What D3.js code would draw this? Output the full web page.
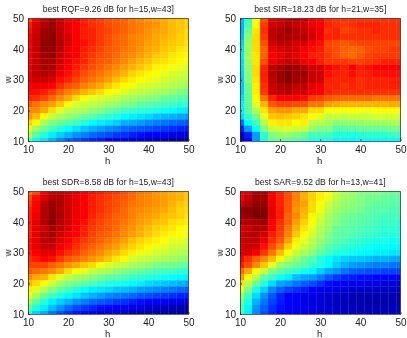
<!DOCTYPE html>
<html>
<meta charset="utf-8">
<script src="https://d3js.org/d3.v7.min.js"></script>
<style>
  html, body { margin: 0; padding: 0; background: #fff; }
  svg { display: block; }
  text { font-family: "Liberation Sans", sans-serif; fill: #222; filter: blur(0.25px); }
</style>
<body>
<div id="my_dataviz"></div>
<script>

// grid of the parameter search
var hValues = d3.range(10, 51, 2);
var wValues = d3.range(50, 9, -2);
var ticks = [10, 20, 30, 40, 50];

var rqf = [
  [80,88,93,96,92,88,87,85,83,82,80,79,78,76,75,73,72,71,69,68,67],
  [85,91,95,97,93,90,87,85,83,82,80,79,78,76,75,74,73,71,69,68,67],
  [86,92,97,98,94,90,88,85,84,82,81,79,78,76,75,73,72,71,69,68,66],
  [87,93,97,99,94,91,88,85,84,82,80,78,77,75,74,73,71,70,69,67,66],
  [88,93,98,99,95,91,88,86,84,82,80,78,77,75,74,72,71,69,68,67,65],
  [88,93,98,98,94,90,88,85,83,81,79,78,76,75,73,71,70,68,67,65,64],
  [87,93,97,98,93,90,87,84,82,80,79,77,75,74,72,70,68,67,65,64,63],
  [88,93,96,96,92,89,86,84,81,79,78,76,74,72,70,68,66,65,64,62,62],
  [89,94,96,96,91,88,85,82,80,78,76,74,72,70,68,66,64,63,61,60,59],
  [89,94,95,94,89,86,83,80,78,76,74,72,70,67,65,63,62,60,59,58,57],
  [89,92,93,91,86,84,81,78,76,74,72,69,66,64,62,61,60,58,57,56,55],
  [87,89,89,87,83,80,78,75,73,71,68,65,63,61,59,58,57,56,55,54,53],
  [86,86,85,82,78,75,73,70,68,66,63,61,59,57,56,55,54,53,52,50,49],
  [84,83,81,77,74,71,66,62,60,59,58,56,54,53,52,51,50,48,47,46,45],
  [79,76,74,72,68,63,59,57,56,55,53,52,50,49,47,46,45,44,43,42,41],
  [75,74,71,66,60,56,55,54,52,50,48,46,44,43,42,41,40,39,38,36,35],
  [73,69,62,57,54,52,50,48,46,44,42,40,38,36,35,34,32,31,30,29,28],
  [67,63,54,50,48,46,44,41,38,36,35,33,30,29,28,26,25,24,23,22,21],
  [60,53,48,44,41,38,35,32,30,28,26,25,23,22,21,20,19,18,17,16,15],
  [55,46,41,36,33,30,27,25,23,21,20,18,17,15,14,13,12,11,10,9,8],
  [47,38,35,30,26,22,20,18,16,15,13,11,10,9,8,6,5,4,3,2,1]
];
var sir = [
  [30,42,62,80,90,92,94,95,93,89,87,84,83,83,83,83,83,83,83,83,83],
  [30,44,63,82,92,93,95,93,92,89,87,84,83,82,83,84,84,84,83,83,83],
  [30,48,65,83,94,95,97,95,93,91,89,83,84,81,82,83,83,84,83,83,83],
  [31,50,66,82,94,96,96,95,95,92,89,84,84,83,83,83,83,83,83,83,83],
  [33,52,66,80,92,94,94,92,92,88,86,81,80,79,80,81,81,81,81,81,81],
  [34,52,66,78,90,91,92,91,88,86,85,81,80,78,77,78,80,81,81,82,82],
  [35,53,65,78,88,90,92,90,87,85,84,82,80,78,77,79,81,82,82,82,82],
  [34,52,65,80,89,91,93,92,89,87,85,82,82,82,81,81,82,83,84,84,84],
  [34,51,66,84,94,96,98,97,95,92,92,87,86,85,87,85,86,88,88,88,88],
  [33,50,66,85,95,97,99,97,97,93,92,86,85,84,86,84,85,86,86,86,86],
  [32,50,65,84,94,97,99,97,96,93,92,85,84,84,85,83,84,84,84,85,85],
  [32,48,64,83,93,95,96,94,94,90,89,84,84,83,84,83,84,84,84,85,85],
  [32,47,64,82,92,94,95,92,92,88,88,84,83,83,83,83,83,83,83,83,83],
  [34,47,62,76,84,87,88,87,86,82,81,79,78,77,77,77,77,76,76,76,76],
  [36,47,60,70,79,81,81,80,80,76,76,72,71,70,70,70,70,70,70,71,71],
  [36,46,55,65,72,73,73,71,71,66,66,62,62,62,62,62,61,62,63,63,63],
  [34,43,49,60,68,69,68,67,65,62,60,56,57,56,57,57,57,58,58,58,58],
  [23,38,44,55,64,65,65,63,64,56,55,54,51,52,52,52,53,53,53,54,54],
  [15,28,38,50,57,58,59,58,57,52,50,50,46,46,47,48,48,48,48,49,49],
  [5,15,28,42,50,52,52,50,48,44,44,44,41,41,40,41,42,42,42,43,43],
  [2,12,28,40,47,48,47,46,44,41,40,40,37,37,37,38,38,38,38,38,38]
];
var sdr = [
  [76,80,88,93,93,92,90,88,86,85,83,82,80,78,76,75,73,72,71,70,68],
  [80,86,91,95,95,92,90,88,85,83,82,80,79,77,75,74,73,72,71,70,68],
  [82,87,94,97,96,92,90,87,85,83,81,80,78,76,75,74,73,72,70,68,67],
  [84,88,95,98,95,92,89,87,85,83,81,79,77,75,74,73,72,71,69,67,66],
  [85,89,95,98,96,92,89,87,84,82,80,78,77,75,73,72,71,69,68,67,65],
  [85,90,95,99,95,92,89,86,83,81,79,78,76,74,72,71,69,68,66,65,64],
  [85,90,93,96,94,91,88,85,82,80,79,77,75,73,71,69,67,66,65,63,62],
  [85,90,94,96,92,90,87,84,81,79,78,76,74,72,70,68,66,64,63,62,61],
  [86,90,94,95,91,88,85,82,80,78,76,74,72,69,67,65,64,62,60,60,58],
  [86,90,93,93,89,86,83,80,78,76,74,72,69,67,65,63,61,60,58,57,57],
  [85,88,90,90,86,83,81,78,76,74,71,69,66,64,61,60,58,57,56,55,54],
  [83,85,87,86,82,79,77,75,73,71,68,65,62,58,57,56,55,54,53,52,51],
  [81,81,81,78,76,73,71,68,66,62,59,57,56,54,53,52,50,49,49,48,47],
  [79,77,76,74,71,66,62,60,57,55,54,52,50,49,48,46,45,44,44,42,41],
  [74,71,70,65,60,56,54,53,51,49,47,46,45,43,42,41,40,39,38,37,36],
  [70,66,62,58,53,50,49,47,45,43,41,40,39,37,36,34,33,32,31,30,29],
  [64,60,55,50,47,44,41,38,36,35,34,32,31,30,28,27,26,25,24,23,22],
  [60,54,48,44,40,37,35,32,30,28,26,25,24,23,21,20,19,18,17,16,15],
  [54,47,41,36,33,30,27,25,23,21,20,18,17,15,14,13,12,11,10,9,9],
  [47,40,36,31,27,23,20,18,16,14,13,11,10,9,8,7,6,5,4,3,3],
  [42,33,29,24,20,17,14,12,10,8,7,6,5,4,3,3,2,2,1,1,1]
];
var sar = [
  [87,90,96,96,88,84,80,75,71,67,64,62,57,54,52,51,50,50,49,48,48],
  [88,93,97,97,88,84,80,75,70,67,64,61,56,53,52,50,49,49,48,47,47],
  [92,95,98,98,89,84,79,74,72,66,62,58,54,52,51,50,48,47,47,46,46],
  [98,99,100,100,90,85,79,73,70,66,61,56,53,51,50,49,47,46,46,45,45],
  [97,98,100,100,90,85,78,74,69,63,59,54,51,49,48,47,46,45,44,44,44],
  [93,95,96,97,88,83,78,72,67,62,57,53,50,48,47,46,45,44,43,43,42],
  [91,93,95,95,87,82,76,70,65,60,55,52,48,47,46,45,44,43,42,42,41],
  [92,94,95,92,85,81,75,68,63,58,54,50,47,46,45,44,43,42,41,41,40],
  [92,94,94,90,83,79,72,64,60,56,52,49,46,45,43,42,41,40,40,39,39],
  [91,93,92,86,80,75,67,61,57,54,50,46,44,42,41,40,39,38,38,37,37],
  [90,91,88,82,76,69,62,57,54,51,47,44,41,40,39,38,37,36,36,35,35],
  [87,83,78,74,69,62,56,52,48,45,41,38,35,33,32,32,31,30,30,29,29],
  [85,80,74,68,60,53,50,48,46,43,40,37,33,30,28,27,26,25,25,24,24],
  [77,71,63,57,50,47,44,42,39,37,33,29,27,24,22,21,20,20,19,19,19],
  [73,63,56,47,43,39,36,31,29,28,25,21,18,16,15,14,14,13,13,13,13],
  [66,56,48,41,34,29,27,24,22,20,17,14,12,11,10,10,9,9,8,8,8],
  [60,50,40,33,26,22,19,17,15,13,11,10,9,8,7,7,6,6,6,6,6],
  [52,44,34,27,21,16,13,12,10,9,8,7,6,5,5,4,4,4,4,4,4],
  [48,40,30,24,19,15,12,11,10,9,8,7,6,5,4,4,3,3,3,3,4],
  [46,37,27,22,17,14,12,11,10,9,8,7,6,5,5,4,4,4,4,5,5],
  [44,36,26,20,16,13,12,11,10,9,8,7,7,6,5,5,5,5,5,5,6]
];

var titles = [
  "best RQF=9.26 dB for h=15,w=43]",
  "best SIR=18.23 dB for h=21,w=35]",
  "best SDR=8.58 dB for h=15,w=43]",
  "best SAR=9.52 dB for h=13,w=41]"
];
var grids = [rqf, sir, sdr, sar];

// where each panel sits in the window
var panels = [
  {left: 28, top: 18.5},
  {left: 240, top: 18.5},
  {left: 28, top: 191.5},
  {left: 240, top: 191.5}
];
var plotWidth = 160.5, plotHeight = 122.5;

// matlab jet colormap
var jet = d3.scaleLinear()
    .domain([0, 12.5, 37.5, 62.5, 87.5, 100])
    .range(["#00008f", "#0000ff", "#00ffff", "#ffff00", "#ff0000", "#800000"])
    .clamp(true);

var svg = d3.select("#my_dataviz")
  .append("svg")
    .attr("width", 407)
    .attr("height", 338);

var defs = svg.append("defs");
defs.append("filter")
    .attr("id", "soft")
    .attr("x", "-5%").attr("y", "-5%").attr("width", "110%").attr("height", "110%")
  .append("feGaussianBlur")
    .attr("stdDeviation", 0.45);

titles.forEach(function(title, p) {
  var x = d3.scaleLinear().domain([10, 50]).range([0, plotWidth]);
  var y = d3.scaleLinear().domain([10, 50]).range([plotHeight, 0]);

  var g = svg.append("g")
      .attr("transform", "translate(" + panels[p].left + "," + panels[p].top + ")");

  defs.append("clipPath")
      .attr("id", "clip" + p)
    .append("rect")
      .attr("width", plotWidth)
      .attr("height", plotHeight);

  var cellW = x(12) - x(10), cellH = y(10) - y(12);

  // h=10, h=50 and w=10, w=50 cells get cut in half by the clip, same as imagesc with the limits set
  var cells = [];
  grids[p].forEach(function(row, j) {
    row.forEach(function(v, i) {
      cells.push({h: hValues[i], w: wValues[j], v: v});
    });
  });

  g.append("g")
      .attr("clip-path", "url(#clip" + p + ")")
    .append("g")
      .attr("filter", "url(#soft)")
    .selectAll("rect")
    .data(cells)
    .enter()
    .append("rect")
      .attr("x", function(d) { return x(d.h) - cellW / 2; })
      .attr("y", function(d) { return y(d.w) - cellH / 2; })
      .attr("width", cellW + 0.3)
      .attr("height", cellH + 0.3)
      .style("fill", function(d) { return jet(d.v); });

  // axes, ticks point inwards
  g.append("g")
      .attr("transform", "translate(0," + plotHeight + ")")
      .call(d3.axisBottom(x).tickValues(ticks).tickSizeInner(-2).tickSizeOuter(0).tickPadding(5));
  g.append("g")
      .call(d3.axisLeft(y).tickValues(ticks).tickSizeInner(-2).tickSizeOuter(0).tickPadding(4));

  g.selectAll(".tick text").style("font-size", "10px").style("font-family", "Liberation Sans");
  g.selectAll(".domain, .tick line").attr("stroke", "#222").attr("stroke-width", 0.7);

  // top and right edge of the box
  g.append("path")
      .attr("d", d3.line()([[0, 0], [plotWidth, 0], [plotWidth, plotHeight]]))
      .attr("fill", "none")
      .attr("stroke", "#222")
      .attr("stroke-width", 0.7);

  g.append("text")
      .attr("x", plotWidth / 2)
      .attr("y", -6.5)
      .attr("text-anchor", "middle")
      .style("font-size", "8.6px")
      .text(title);

  g.append("text")
      .attr("x", plotWidth / 2 - 0.5)
      .attr("y", plotHeight + 23)
      .attr("text-anchor", "middle")
      .style("font-size", "9.5px")
      .text("h");

  g.append("text")
      .attr("transform", "translate(-17," + (plotHeight / 2) + ") rotate(-90)")
      .attr("text-anchor", "middle")
      .style("font-size", "9.5px")
      .text("w");
});
</script>
</body>
</html>
